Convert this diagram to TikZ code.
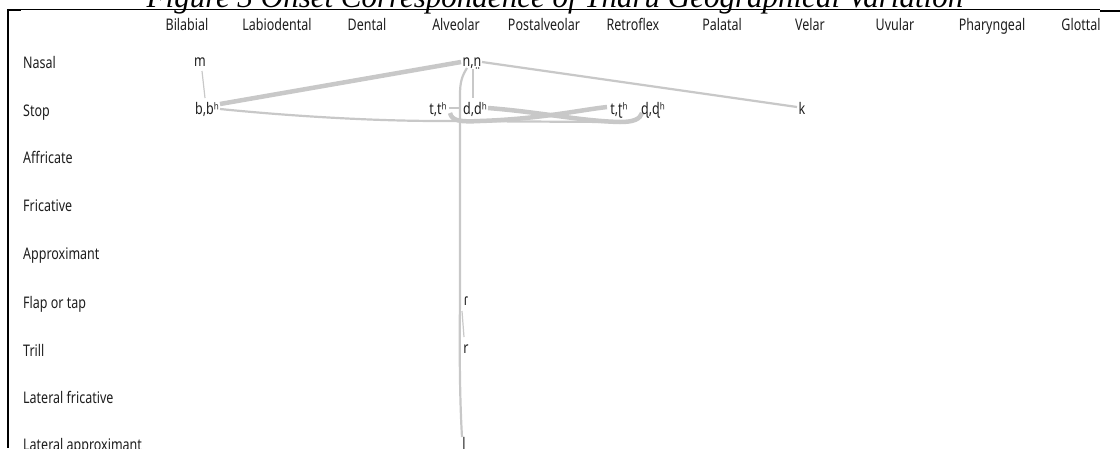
\documentclass[tikz,border=0pt]{standalone}
\usepackage{fontspec}
\newfontfamily\labfont[FakeStretch=0.78]{Noto Sans}
\newfontfamily\titlefont{Liberation Serif}
\definecolor{txt}{HTML}{1E1E1E}
\definecolor{edgegray}{HTML}{C8C8C8}
\tikzset{
  lbl/.style={font=\labfont\fontsize{16}{18}\selectfont, text=txt, inner sep=1pt},
  hdr/.style={lbl, anchor=base},
  rowlbl/.style={lbl, anchor=base west},
  ph/.style={lbl, inner sep=0.5pt, anchor=base},
  edgethin/.style={draw=edgegray, line width=1.2pt},
  edgemid/.style={draw=edgegray, line width=2.2pt},
  edgethick/.style={draw=edgegray, line width=4.5pt},
  framethick/.style={draw=black, line width=2.5pt},
  framethin/.style={draw=black, line width=1pt}
}
\begin{document}
\begin{tikzpicture}[x=1pt,y=-1pt]
\useasboundingbox (0,0) rectangle (1120,448);
\clip (0,0) rectangle (1120,448);
% title (cropped at the top)
\node[anchor=base, font=\titlefont\itshape\fontsize{31}{34}\selectfont, inner sep=0] (title) at (555,7) {Figure 3 Onset Correspondence of Tharu Geographical Variation};
% frame
\draw[framethick] (8,10) -- (21,10);
\draw[framethin] (21,9.5) -- (1100,9.5);
\draw[framethick] (1100,11) -- (1120,11);
\draw[framethick] (8,8.75) -- (8,448);
% column headers
\node[hdr] (hBil) at (187,30) {Bilabial};
\node[hdr] (hLab) at (277,30) {Labiodental};
\node[hdr] (hDen) at (367,30) {Dental};
\node[hdr] (hAlv) at (456,30) {Alveolar};
\node[hdr] (hPos) at (544,30) {Postalveolar};
\node[hdr] (hRet) at (633,30) {Retroflex};
\node[hdr] (hPal) at (722,30) {Palatal};
\node[hdr] (hVel) at (810,30) {Velar};
\node[hdr] (hUvu) at (895,30) {Uvular};
\node[hdr] (hPha) at (992,30) {Pharyngeal};
\node[hdr] (hGlo) at (1081,30) {Glottal};
% row labels
\node[rowlbl] (rNas) at (22,68) {Nasal};
\node[rowlbl] (rSto) at (22,116) {Stop};
\node[rowlbl] (rAff) at (22,163) {Affricate};
\node[rowlbl] (rFri) at (22,211) {Fricative};
\node[rowlbl] (rApp) at (22,259) {Approximant};
\node[rowlbl] (rFla) at (22,308) {Flap or tap};
\node[rowlbl] (rTri) at (22,356) {Trill};
\node[rowlbl] (rLfr) at (22,403) {Lateral fricative};
\node[rowlbl] (rLap) at (22,450) {Lateral approximant};
% edges (drawn under the phoneme labels)
\coordinate (nnL) at (461,62);
\coordinate (nnB) at (467,68);
\coordinate (nnBR) at (473,69);
\coordinate (nnR) at (482,62);
\coordinate (bbR) at (220,104);
\coordinate (bbRB) at (220,109);
\coordinate (ttB) at (450,113);
\coordinate (ttR) at (449,108);
\coordinate (ddL) at (459,108);
\coordinate (ddT) at (473,98);
\coordinate (ddR) at (488,108);
\coordinate (trL) at (607,107);
\coordinate (drB) at (642,113);
\coordinate (kL) at (797,107);
\coordinate (mB) at (202,71);
\coordinate (bbT) at (205,98);
\coordinate (flB) at (462,311);
\coordinate (trT) at (464,337);
\coordinate (lT) at (462,437);
\draw[edgethin] (mB) -- (bbT);
\draw[edgethick] (bbR) -- (nnL);
\draw[edgemid] (bbRB) .. controls (300,117) and (380,121) .. (440,121) -- (610,122) .. controls (633,122) and (640,120) .. (drB);
\draw[edgemid] (nnR) -- (kL);
\draw[edgethin] (nnBR) -- (ddT);
\draw[edgemid] (nnB) .. controls (462,76) and (460,82) .. (460,95) -- (460,300) .. controls (459,380) and (461,420) .. (lT);
\draw[edgethin] (ttR) -- (ddL);
\draw[edgethick] (ttB) .. controls (452,121) and (460,122) .. (480,121) .. controls (540,119) and (580,110) .. (trL);
\draw[edgethick] (ddR) .. controls (540,112) and (580,121) .. (620,122) .. controls (634,122) and (640,119) .. (drB);
\draw[edgethin] (flB) -- (trT);
% phoneme nodes
\node[ph] (m) at (200,66) {m};
\node[ph] (bb) at (207,114) {b,bʰ};
\node[ph] (nn) at (472,66) {n,n̤};
\node[ph] (tt) at (438,114) {t,tʰ};
\node[ph] (dd) at (475,114) {d,dʰ};
\node[ph] (tr) at (619,114) {t,ʈʰ};
\node[ph] (dr) at (653,114) {ɖ,ɖʰ};
\node[ph] (k) at (802,114) {k};
\node[ph] (fl) at (466,305) {ɾ};
\node[ph] (tri) at (466,353) {r};
\node[ph] (lat) at (464,449) {l};
\end{tikzpicture}
\end{document}
